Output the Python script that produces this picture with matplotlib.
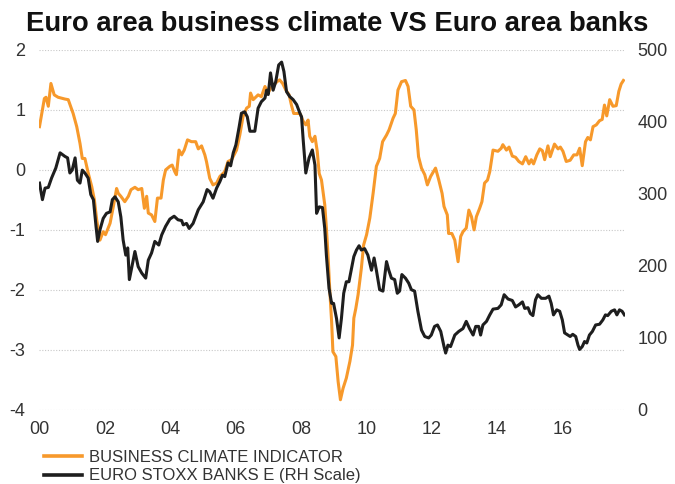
import matplotlib
matplotlib.use("Agg")
import matplotlib.pyplot as plt

plt.rcParams['font.family'] = ['Liberation Sans', 'DejaVu Sans']

# Business climate indicator (left scale), decimal year -> value
bci_x = [2000.0, 2000.15, 2000.2, 2000.27, 2000.35, 2000.45, 2000.57, 2000.78, 2000.88,
         2001.03, 2001.14, 2001.24, 2001.31, 2001.39, 2001.49, 2001.6, 2001.68, 2001.75,
         2001.85, 2001.95, 2002.02, 2002.16, 2002.26, 2002.36, 2002.41, 2002.49, 2002.61,
         2002.72, 2002.8, 2002.92, 2003.02, 2003.13, 2003.21, 2003.28, 2003.33, 2003.43,
         2003.53, 2003.61, 2003.72, 2003.79, 2003.86, 2003.99, 2004.06, 2004.14, 2004.19,
         2004.27, 2004.35, 2004.43, 2004.53, 2004.65, 2004.78, 2004.86, 2004.96, 2005.06,
         2005.11, 2005.21, 2005.31, 2005.42, 2005.52, 2005.67, 2005.77, 2005.88, 2006.03,
         2006.13, 2006.23, 2006.34, 2006.42, 2006.46, 2006.54, 2006.69, 2006.79, 2006.9,
         2007.0, 2007.07, 2007.27, 2007.35, 2007.44, 2007.54, 2007.64, 2007.71, 2007.78,
         2007.86, 2007.97, 2008.07, 2008.15, 2008.22, 2008.27, 2008.35, 2008.43, 2008.5,
         2008.56, 2008.63, 2008.73, 2008.78, 2008.83, 2008.88, 2008.94, 2008.98, 2009.07,
         2009.14, 2009.21, 2009.29, 2009.39, 2009.5, 2009.58, 2009.62, 2009.68, 2009.75,
         2009.85, 2009.92, 2010.01, 2010.11, 2010.21, 2010.31, 2010.41, 2010.5, 2010.62,
         2010.7, 2010.82, 2010.89, 2010.97, 2011.08, 2011.2, 2011.28, 2011.36, 2011.46,
         2011.53, 2011.6, 2011.69, 2011.79, 2011.87, 2011.97, 2012.12, 2012.22, 2012.32,
         2012.38, 2012.48, 2012.52, 2012.62, 2012.71, 2012.81, 2012.89, 2012.96, 2013.06,
         2013.14, 2013.22, 2013.3, 2013.37, 2013.47, 2013.54, 2013.62, 2013.71, 2013.78,
         2013.88, 2014.03, 2014.13, 2014.18, 2014.29, 2014.37, 2014.47, 2014.57, 2014.67,
         2014.78, 2014.88, 2014.98, 2015.05, 2015.12, 2015.22, 2015.31, 2015.39, 2015.46,
         2015.56, 2015.63, 2015.76, 2015.87, 2015.94, 2016.02, 2016.12, 2016.24, 2016.35,
         2016.45, 2016.53, 2016.61, 2016.71, 2016.78, 2016.86, 2016.94, 2017.04, 2017.14,
         2017.22, 2017.29, 2017.36, 2017.45, 2017.55, 2017.65, 2017.73, 2017.8, 2017.87]
bci_y = [0.72, 1.19, 1.21, 1.06, 1.44, 1.25, 1.21, 1.18, 1.17,
         0.94, 0.72, 0.44, 0.19, 0.19, -0.05, -0.28, -0.5, -0.83,
         -1.17, -1.03, -1.08, -0.89, -0.61, -0.31, -0.39, -0.44, -0.53,
         -0.44, -0.33, -0.29, -0.33, -0.31, -0.64, -0.44, -0.72, -0.75,
         -0.86, -0.47, -0.47, -0.17, 0.0, 0.06, 0.08, -0.03, -0.08,
         0.33, 0.25, 0.33, 0.5, 0.47, 0.47, 0.35, 0.4, 0.25,
         0.14, -0.14, -0.25, -0.22, -0.11, -0.03, 0.14, 0.17, 0.33,
         0.58, 0.89, 1.03, 1.06, 1.28, 1.17, 1.25, 1.22, 1.39,
         1.28, 1.36, 1.47, 1.5, 1.44, 1.33, 1.25, 1.08, 0.94,
         0.94, 0.94, 0.81, 0.75, 0.83, 0.56, 0.47, 0.56, 0.31,
         -0.06, -0.17, -0.58, -0.97, -1.42, -1.97, -2.53, -3.03, -3.11,
         -3.53, -3.83, -3.64, -3.47, -3.19, -2.92, -2.47, -2.31, -2.08,
         -1.64, -1.25, -1.08, -0.8, -0.39, 0.06, 0.19, 0.47, 0.58,
         0.67, 0.86, 0.94, 1.33, 1.47, 1.49, 1.39, 1.06, 1.0,
         0.67, 0.22, 0.03, -0.08, -0.25, -0.11, 0.03, -0.17, -0.39,
         -0.61, -0.75, -1.06, -1.06, -1.17, -1.53, -1.11, -1.03, -0.97,
         -0.67, -0.78, -1.0, -0.78, -0.64, -0.53, -0.22, -0.17, -0.03,
         0.33, 0.31, 0.36, 0.42, 0.33, 0.38, 0.23, 0.21, 0.14,
         0.1, 0.22, 0.1, 0.17, 0.1, 0.25, 0.35, 0.32, 0.17,
         0.4, 0.22, 0.43, 0.35, 0.38, 0.31, 0.14, 0.16, 0.25,
         0.25, 0.36, 0.07, 0.47, 0.54, 0.5, 0.72, 0.75, 0.82,
         0.84, 1.08, 0.9, 1.17, 1.06, 1.07, 1.31, 1.43, 1.49]

# EURO STOXX Banks (right scale)
bank_x = [2000.0, 2000.09, 2000.17, 2000.27, 2000.37, 2000.5, 2000.63, 2000.78, 2000.86,
          2000.93, 2001.0, 2001.09, 2001.16, 2001.24, 2001.31, 2001.39, 2001.49, 2001.57,
          2001.65, 2001.73, 2001.78, 2001.85, 2001.95, 2002.05, 2002.16, 2002.23, 2002.31,
          2002.41, 2002.49, 2002.56, 2002.64, 2002.7, 2002.75, 2002.82, 2002.92, 2003.02,
          2003.13, 2003.25, 2003.33, 2003.43, 2003.53, 2003.65, 2003.74, 2003.86, 2003.99,
          2004.12, 2004.24, 2004.35, 2004.4, 2004.5, 2004.58, 2004.7, 2004.86, 2005.01,
          2005.13, 2005.21, 2005.31, 2005.42, 2005.52, 2005.6, 2005.67, 2005.77, 2005.85,
          2005.93, 2006.01, 2006.11, 2006.18, 2006.28, 2006.36, 2006.44, 2006.59, 2006.69,
          2006.79, 2006.9, 2006.95, 2007.0, 2007.07, 2007.15, 2007.23, 2007.32, 2007.41,
          2007.48, 2007.56, 2007.66, 2007.76, 2007.87, 2007.97, 2008.02, 2008.07, 2008.15,
          2008.25, 2008.35, 2008.43, 2008.48, 2008.56, 2008.66, 2008.73, 2008.78, 2008.86,
          2008.94, 2009.0, 2009.09, 2009.17, 2009.24, 2009.31, 2009.39, 2009.47, 2009.55,
          2009.62, 2009.7, 2009.78, 2009.85, 2009.95, 2010.05, 2010.16, 2010.24, 2010.31,
          2010.41, 2010.51, 2010.62, 2010.69, 2010.77, 2010.87, 2010.95, 2011.02, 2011.09,
          2011.2, 2011.3, 2011.38, 2011.48, 2011.58, 2011.69, 2011.79, 2011.91, 2011.99,
          2012.09, 2012.18, 2012.28, 2012.38, 2012.43, 2012.5, 2012.58, 2012.71, 2012.83,
          2012.96, 2013.06, 2013.16, 2013.27, 2013.35, 2013.44, 2013.5, 2013.57, 2013.68,
          2013.78, 2013.88, 2014.03, 2014.13, 2014.22, 2014.34, 2014.47, 2014.57, 2014.67,
          2014.78, 2014.85, 2014.95, 2015.02, 2015.1, 2015.18, 2015.25, 2015.36, 2015.49,
          2015.59, 2015.66, 2015.73, 2015.83, 2015.92, 2016.0, 2016.07, 2016.17, 2016.24,
          2016.32, 2016.41, 2016.48, 2016.53, 2016.61, 2016.68, 2016.75, 2016.83, 2016.92,
          2017.02, 2017.14, 2017.24, 2017.32, 2017.39, 2017.5, 2017.6, 2017.67, 2017.75,
          2017.83, 2017.9]
bank_y = [315, 292, 308, 309, 322, 336, 357, 352, 350,
          329, 333, 350, 319, 315, 333, 329, 322, 299,
          292, 255, 234, 250, 266, 273, 275, 292, 296,
          289, 268, 236, 215, 225, 181, 197, 220, 199,
          190, 183, 208, 218, 234, 229, 243, 255, 265,
          269, 264, 263, 257, 259, 252, 259, 278, 289,
          306, 303, 294, 308, 317, 326, 324, 343, 339,
          357, 368, 393, 412, 414, 407, 387, 387, 419,
          428, 433, 444, 438, 468, 444, 456, 479, 483,
          470, 442, 435, 431, 424, 412, 407, 375, 329,
          350, 361, 340, 273, 282, 281, 252, 215, 169,
          148, 148, 127, 100, 127, 162, 178, 178, 197,
          213, 222, 228, 222, 224, 215, 194, 211, 194,
          167, 165, 206, 194, 183, 181, 162, 165, 188,
          183, 176, 167, 165, 137, 111, 102, 100, 104,
          116, 118, 109, 88, 79, 90, 88, 104, 109,
          113, 123, 113, 104, 116, 116, 104, 118, 123,
          132, 140, 141, 146, 160, 154, 152, 143, 146,
          150, 141, 142, 134, 131, 153, 160, 155, 155,
          158, 148, 132, 139, 137, 125, 107, 104, 102,
          105, 102, 90, 84, 88, 95, 93, 104, 109,
          118, 119, 125, 132, 131, 137, 139, 132, 139,
          137, 132]

year_ticks = [2000, 2002, 2004, 2006, 2008, 2010, 2012, 2014, 2016]
year_labels = ["00", "02", "04", "06", "08", "10", "12", "14", "16"]
left_ticks = [-4, -3, -2, -1, 0, 1, 2]
right_ticks = [0, 100, 200, 300, 400, 500]

ORANGE = "#F7992B"
BLACK = "#1E1E1E"
TXT = "#333333"

fig = plt.figure(figsize=(6.75, 4.84), dpi=100)
ax = fig.add_axes([0.0585, 0.153, 0.8675, 0.744])
ax2 = ax.twinx()

ax.plot(bci_x, bci_y, color=ORANGE, linewidth=2.2, zorder=3)
ax2.plot(bank_x, bank_y, color=BLACK, linewidth=2.2, zorder=3)

ax.set_xlim(2000, 2017.92)
ax.set_ylim(-4, 2)
ax2.set_ylim(0, 500)
ax.set_yticks(left_ticks)
ax.set_yticklabels([str(t) for t in left_ticks])
ax2.set_yticks(right_ticks)
ax.set_xticks(year_ticks)
ax.set_xticklabels(year_labels)

ax.grid(True, axis='y', color='#C8C8C8', linestyle=(0, (1, 1.5)), linewidth=0.8)
ax.set_axisbelow(True)
for a in (ax, ax2):
    for s in a.spines.values():
        s.set_visible(False)
    a.tick_params(length=0, labelsize=13, labelcolor=TXT)
ax.tick_params(axis='y', pad=10)
ax.tick_params(axis='x', pad=8)
ax2.tick_params(axis='y', pad=9)

fig.suptitle("Euro area business climate VS Euro area banks", x=0.5, y=0.978,
             fontsize=19.8, fontweight='bold', color='#111111')

h1, = ax.plot([], [], color=ORANGE, linewidth=2.6)
h2, = ax.plot([], [], color=BLACK, linewidth=2.6)
fig.legend([h1, h2], ["BUSINESS CLIMATE INDICATOR", "EURO STOXX BANKS E (RH Scale)"],
           loc='upper left', bbox_to_anchor=(0.053, 0.088), frameon=False,
           fontsize=12, handlelength=2.25, handletextpad=0.45, labelspacing=0.22,
           labelcolor=TXT, borderpad=0)

fig.savefig("out.png", dpi=100)
